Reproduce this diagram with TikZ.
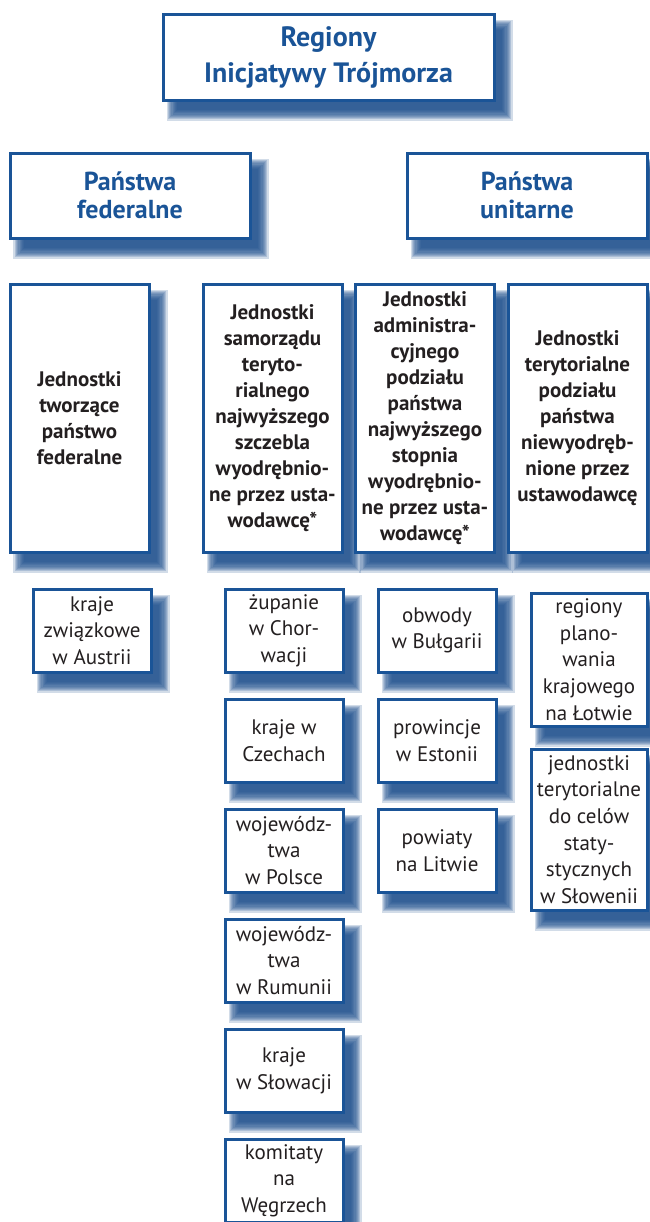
\documentclass[tikz,border=0pt]{standalone}
\usepackage{fontspec}
\setmainfont{PT Sans}
\usetikzlibrary{calc, backgrounds}

\definecolor{boxblue}{HTML}{1A5497}
\definecolor{shadowblue}{HTML}{1D4E8C}
\definecolor{textgray}{HTML}{231F20}

% soft blurred shadow below and right of a node
\newcommand{\softshadow}[1]{%
  \foreach \k in {1,...,10}{
    \fill[shadowblue, opacity=0.2]
      ($(#1.north west)+(5.5pt+3pt-\k*0.6pt, -6.5pt-3pt+\k*0.6pt)$) rectangle
      ($(#1.south east)+(5.5pt-3pt+\k*0.6pt, -6.5pt+3pt-\k*0.6pt)$);
  }}

\begin{document}
\begin{tikzpicture}[x=0.5pt, y=-0.5pt,
  every node/.style={draw=boxblue, line width=1.5pt, fill=white, align=center,
    inner sep=1pt, text=textgray},
  titlebox/.style={font=\bfseries\fontsize{14}{18}\selectfont, text=boxblue,
    minimum width=165.5pt, minimum height=43pt},
  statebox/.style={font=\bfseries\fontsize{13}{14}\selectfont, text=boxblue,
    minimum width=120pt, minimum height=42.5pt},
  unitbox/.style={font=\bfseries\fontsize{10.5}{13}\selectfont,
    minimum width=69.5pt, minimum height=134pt},
  regionbox/.style={font=\fontsize{10.5}{13.3}\selectfont,
    minimum width=59pt, minimum height=41.5pt}
]
\useasboundingbox (0,0) rectangle (649,1222);

% top level
\node[titlebox] (regions) at (328.5,57) {Regiony\\Inicjatywy Trójmorza};

% kinds of states
\node[statebox] (federal) at (130,195.5) {Państwa\\federalne};
\node[statebox] (unitary) at (527,195.5) {Państwa\\unitarne};

% kinds of units
\node[unitbox] (colfed) at (79.5,418) {Jednostki\\tworzące\\państwo\\federalne};
\node[unitbox] (colself) at (272.5,418) {Jednostki\\samorządu\\teryto-\\rialnego\\najwyższego\\szczebla\\wyodrębnio-\\ne przez usta-\\wodawcę*};
\node[unitbox] (coladmin) at (425,418) {Jednostki\\administra-\\cyjnego\\podziału\\państwa\\najwyższego\\stopnia\\wyodrębnio-\\ne przez usta-\\wodawcę*};
\node[unitbox] (colterr) at (577.5,418) {Jednostki\\terytorialne\\podziału\\państwa\\niewyodręb-\\nione przez\\ustawodawcę};

% regions
\node[regionbox] (austria) at (92,630.5) {kraje\\związkowe\\w Austrii};

\node[regionbox] (croatia) at (284,630.5) {żupanie\\w Chor-\\wacji};
\node[regionbox] (czech) at (284,740.5) {kraje w\\Czechach};
\node[regionbox] (poland) at (284,850.5) {wojewódz-\\twa\\w Polsce};
\node[regionbox] (romania) at (284,960.5) {wojewódz-\\twa\\w Rumunii};
\node[regionbox] (slovakia) at (284,1070.5) {kraje\\w Słowacji};
\node[regionbox] (hungary) at (284,1180.5) {komitaty\\na\\Węgrzech};

\node[regionbox] (bulgaria) at (437,630.5) {obwody\\w Bułgarii};
\node[regionbox] (estonia) at (437,740.5) {prowincje\\w Estonii};
\node[regionbox] (lithuania) at (437,850.5) {powiaty\\na Litwie};

\node[regionbox, minimum width=58pt, minimum height=66.5pt] (latvia) at (589,659.5) {regiony\\plano-\\wania\\krajowego\\na Łotwie};
\node[regionbox, minimum width=58pt, minimum height=80.5pt] (slovenia) at (589,829.5) {jednostki\\terytorialne\\do celów\\staty-\\stycznych\\w Słowenii};

% shadows
\begin{scope}[on background layer]
  \foreach \n in {regions, federal, unitary, colfed, colself, coladmin, colterr,
      austria, croatia, czech, poland, romania, slovakia, hungary,
      bulgaria, estonia, lithuania, latvia, slovenia}
    \softshadow{\n};
\end{scope}
\end{tikzpicture}
\end{document}
